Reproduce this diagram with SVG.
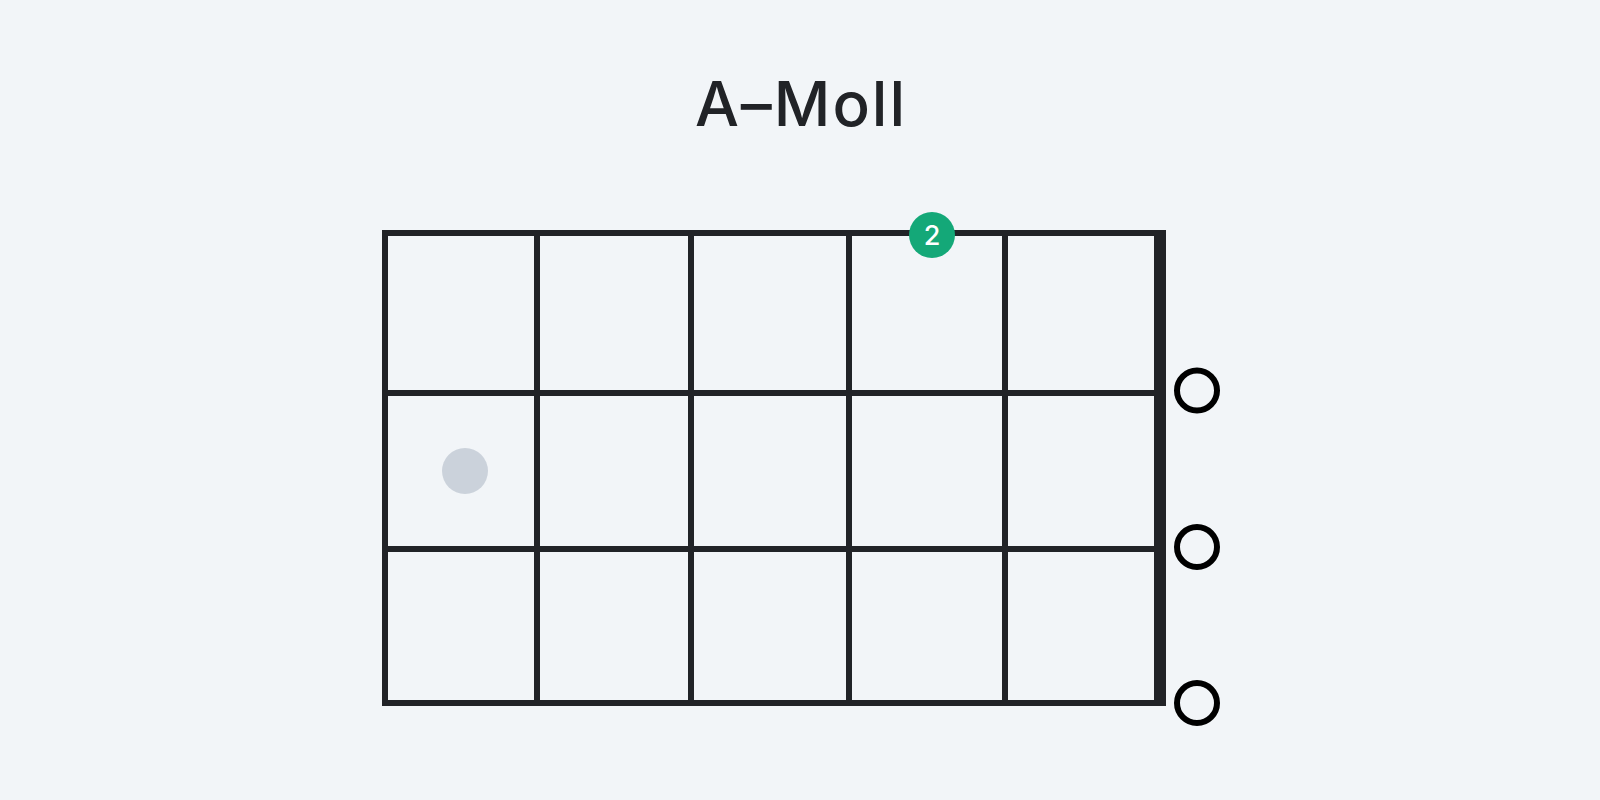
<svg xmlns="http://www.w3.org/2000/svg" width="1600" height="800" viewBox="0 0 1600 800">
<style>
.bg{fill:#f2f5f8}
.title{font-family:Inter,"Noto Sans",sans-serif;font-weight:500;font-size:62px;letter-spacing:2px;fill:#212327}
.grid line{stroke:#212327;stroke-width:6}
.open{fill:none;stroke:#000;stroke-width:6}
.finger{fill:#14a878}
.fnum{font-family:Inter,"Noto Sans",sans-serif;font-weight:500;font-size:27px;fill:#fff}
.ghost{fill:#cbd2db}
</style>
<rect class="bg" x="0" y="0" width="1600" height="800"/>
<text class="title" x="801" y="126" text-anchor="middle">A–Moll</text>
<g id="grid" class="grid">
<line x1="382" y1="233" x2="1160" y2="233"/>
<line x1="382" y1="393" x2="1160" y2="393"/>
<line x1="382" y1="549" x2="1160" y2="549"/>
<line x1="382" y1="703" x2="1160" y2="703"/>
<line x1="385" y1="230" x2="385" y2="706"/>
<line x1="537" y1="230" x2="537" y2="706"/>
<line x1="691" y1="230" x2="691" y2="706"/>
<line x1="849" y1="230" x2="849" y2="706"/>
<line x1="1005" y1="230" x2="1005" y2="706"/>
<rect x="1154" y="230" width="12" height="476" fill="#212327"/>
</g>
<g id="open1"><circle class="open" cx="1197" cy="390.5" r="20"/></g>
<g id="open2"><circle class="open" cx="1197" cy="547" r="20"/></g>
<g id="open3"><circle class="open" cx="1197" cy="703" r="20"/></g>
<g id="ghost"><circle class="ghost" cx="465" cy="471" r="23"/></g>
<g id="finger2">
<circle class="finger" cx="932" cy="235" r="23"/>
<text class="fnum" x="932" y="245" text-anchor="middle">2</text>
</g>
</svg>
